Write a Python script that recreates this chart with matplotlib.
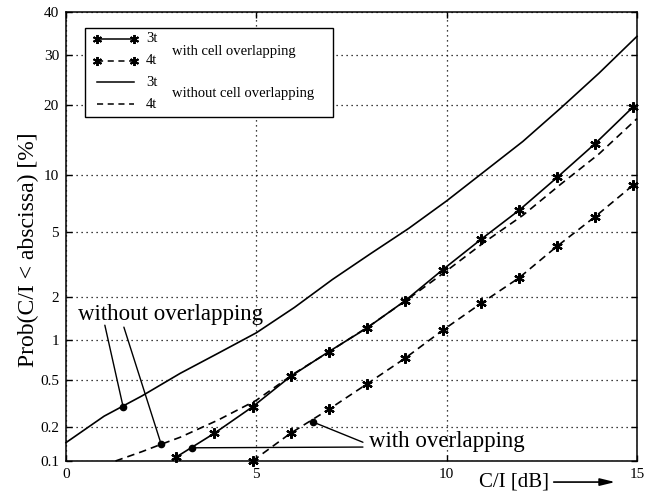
"""
Cumulative C/I distribution for 3- and 4-cell clusters, with and without
cell overlapping, on a normal-probability ordinate.
"""

import math

import matplotlib
matplotlib.use("Agg")
import matplotlib.pyplot as plt
import numpy as np
from matplotlib.lines import Line2D
from matplotlib.patches import Rectangle

plt.rcParams["font.family"] = ["Liberation Serif", "DejaVu Serif"]

# C/I in dB and Prob(C/I < abscissa) in %
ci_3t_free = [0, 1, 2, 3, 4, 5, 6, 7, 8, 9, 10, 11, 12, 13, 14, 15]
prob_3t_free = [0.147, 0.25, 0.37, 0.56, 0.80, 1.13, 1.70, 2.6, 3.75, 5.25,
                7.4, 10.4, 14.2, 19.5, 26.1, 34.2]

ci_4t_free = [1.3, 2.0, 2.5, 3.0, 4.0, 5.0, 6.0, 7.0, 8.0, 9.0, 10.0, 11.0,
              12.0, 13.0, 14.0, 15.0]
prob_4t_free = [0.10, 0.122, 0.142, 0.164, 0.232, 0.34, 0.56, 0.85, 1.28,
                1.95, 2.95, 4.4, 6.2, 9.0, 12.5, 17.7]

ci_3t_overlap = [2.9, 3.9, 4.9, 5.9, 6.9, 7.9, 8.9, 9.9, 10.9, 11.9, 12.9,
                 13.9, 14.9]
prob_3t_overlap = [0.109, 0.178, 0.30, 0.53, 0.82, 1.22, 1.88, 3.0, 4.55,
                   6.6, 9.7, 13.9, 19.7]

ci_4t_overlap = [4.9, 5.9, 6.9, 7.9, 8.9, 9.9, 10.9, 11.9, 12.9, 13.9, 14.9]
prob_4t_overlap = [0.10, 0.178, 0.285, 0.46, 0.73, 1.18, 1.81, 2.66, 4.15,
                   6.1, 8.9]

y_ticks = [0.1, 0.2, 0.5, 1, 2, 5, 10, 20, 30, 40]
y_tick_labels = ["0.1", "0.2", "0.5", "1", "2", "5", "10", "20", "30", "40"]
x_ticks = [0, 5, 10, 15]

# points picked out by the two callouts
without_dots = [(1.5, 0.30), (2.5, 0.142)]
without_anchors = [(1.02, 1.28), (1.52, 1.24)]
without_text_pos = (0.32, 1.52)
with_dots = [(3.3, 0.132), (6.5, 0.222)]
with_anchors = [(7.8, 0.134), (7.8, 0.148)]
with_text_pos = (7.95, 0.149)


# inverse normal CDF (Acklam's rational approximation)
_A = [-3.969683028665376e+01, 2.209460984245205e+02, -2.759285104469687e+02,
      1.383577518672690e+02, -3.066479806614716e+01, 2.506628277459239e+00]
_B = [-5.447609879822406e+01, 1.615858368580409e+02, -1.556989798598866e+02,
      6.680131188771972e+01, -1.328068155288572e+01]
_C = [-7.784894002430293e-03, -3.223964580411365e-01, -2.400758277161838e+00,
      -2.549671348194000e+00, 4.374664141464968e+00, 2.938163982698783e+00]
_D = [7.784695709041462e-03, 3.224671290700398e-01, 2.445134137142996e+00,
      3.754408661907416e+00]


def _ppf(p):
    p = min(max(p, 1e-12), 1 - 1e-12)
    plow = 0.02425
    if p < plow:
        q = math.sqrt(-2 * math.log(p))
        return (((((_C[0]*q + _C[1])*q + _C[2])*q + _C[3])*q + _C[4])*q + _C[5]) / \
               ((((_D[0]*q + _D[1])*q + _D[2])*q + _D[3])*q + 1)
    if p > 1 - plow:
        q = math.sqrt(-2 * math.log(1 - p))
        return -(((((_C[0]*q + _C[1])*q + _C[2])*q + _C[3])*q + _C[4])*q + _C[5]) / \
                ((((_D[0]*q + _D[1])*q + _D[2])*q + _D[3])*q + 1)
    q = p - 0.5
    r = q * q
    return (((((_A[0]*r + _A[1])*r + _A[2])*r + _A[3])*r + _A[4])*r + _A[5])*q / \
           (((((_B[0]*r + _B[1])*r + _B[2])*r + _B[3])*r + _B[4])*r + 1)


_ppf_vec = np.vectorize(_ppf, otypes=[float])
_erfc_vec = np.vectorize(math.erfc, otypes=[float])


def percent_to_z(p):
    return _ppf_vec(np.asarray(p, dtype=float) / 100.0)


def z_to_percent(z):
    return 50.0 * _erfc_vec(-np.asarray(z, dtype=float) / math.sqrt(2))


fig = plt.figure(figsize=(6.53, 4.98), dpi=100)
ax = fig.add_axes([0.1011, 0.0743, 0.8744, 0.9016])
ax.set_yscale("function", functions=(percent_to_z, z_to_percent))

star = (6, 2, 0)
line_kw = dict(color="black", lw=1.2, clip_on=False)
dash = (4.5, 3)

ax.plot(ci_3t_free, prob_3t_free, "-", **line_kw)
ax.plot(ci_4t_free, prob_4t_free, "--", dashes=dash, **line_kw)
ax.plot(ci_3t_overlap, prob_3t_overlap, "-", marker=star, ms=7.5, mew=1.6,
        **line_kw)
ax.plot(ci_4t_overlap, prob_4t_overlap, "--", dashes=dash, marker=star,
        ms=7.5, mew=1.6, **line_kw)

ax.set_xlim(0, 15)
ax.set_ylim(0.1, 40)
ax.set_xticks(x_ticks)
ax.set_xticklabels([str(t) for t in x_ticks])
ax.set_yticks(y_ticks)
ax.set_yticklabels(y_tick_labels)
ax.yaxis.set_minor_locator(matplotlib.ticker.NullLocator())

ax.grid(True, color="black", linestyle=(0, (1, 3)), lw=0.9)
ax.tick_params(direction="in", length=4, width=1, top=True, right=True,
               labelsize=11, pad=5)
for s in ax.spines.values():
    s.set_linewidth(1.1)

# callouts
for dot, start in zip(without_dots, without_anchors):
    ax.annotate("", xy=dot, xytext=start,
                arrowprops=dict(arrowstyle="-", color="black", lw=1.0,
                                shrinkA=0, shrinkB=0))
for dot, end in zip(with_dots, with_anchors):
    ax.annotate("", xy=dot, xytext=end,
                arrowprops=dict(arrowstyle="-", color="black", lw=1.0,
                                shrinkA=0, shrinkB=0))
ax.plot([d[0] for d in without_dots + with_dots],
        [d[1] for d in without_dots + with_dots],
        "o", color="black", ms=4.5, ls="none")
ax.text(*without_text_pos, "without overlapping", fontsize=16.5,
        ha="left", va="center")
ax.text(*with_text_pos, "with overlapping", fontsize=16.5,
        ha="left", va="center")

# hand-built legend with grouped captions
tr = ax.transAxes
ax.add_patch(Rectangle((0.0333, 0.766), 0.4343, 0.1984, transform=tr,
                       facecolor="white", edgecolor="black", lw=1.0, zorder=5))
rows = [0.9399, 0.8909, 0.8441, 0.7951]
styles = [("-", True), ("--", True), ("-", False), ("--", False)]
for y, (ls, has_marker), lab in zip(rows, styles, ["3t", "4t", "3t", "4t"]):
    ln = Line2D([0.0543, 0.119], [y, y], transform=tr, color="black", lw=1.1,
                linestyle=ls, zorder=6)
    if ls == "--":
        ln.set_dashes((4, 3))
    if has_marker:
        ln.set_marker(star)
        ln.set_markersize(6.5)
        ln.set_markeredgewidth(1.4)
    ax.add_line(ln)
    ax.text(0.140, y, lab, transform=tr, fontsize=10.5, va="center", zorder=6)
ax.text(0.1856, 0.913, "with cell overlapping", transform=tr, fontsize=10.5,
        va="center", zorder=6)
ax.text(0.1856, 0.8196, "without cell overlapping", transform=tr,
        fontsize=10.5, va="center", zorder=6)

fig.text(0.044, 0.498, "Prob(C/I < abscissa) [%]", rotation=90,
         ha="center", va="center", fontsize=17)
fig.text(0.787, 0.032, "C/I [dB]", ha="center", va="center", fontsize=15)
ax.annotate("", xy=(0.942, 0.032), xytext=(0.848, 0.032),
            xycoords="figure fraction", textcoords="figure fraction",
            arrowprops=dict(arrowstyle="-|>,head_length=0.9,head_width=0.22",
                            color="black", lw=1.2, shrinkA=0, shrinkB=0))

fig.savefig("out.png", dpi=100)
